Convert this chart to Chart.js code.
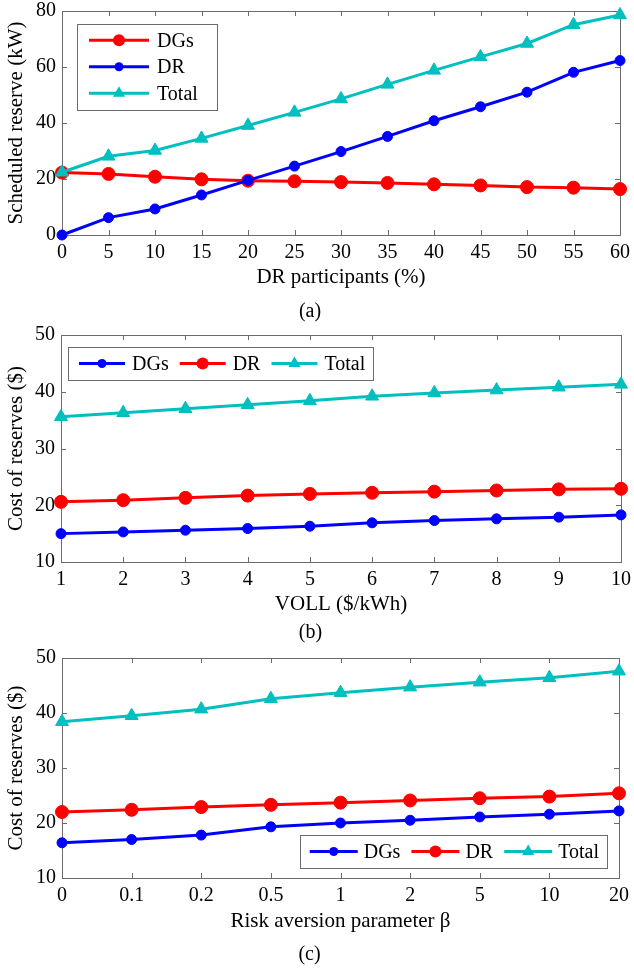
<!DOCTYPE html>
<html>
<head>
<meta charset="utf-8">
<script src="https://cdn.jsdelivr.net/npm/chart.js@4.4.0/dist/chart.umd.min.js"></script>
<style>
  body { margin: 0; background: #fff; }
  .wrap { position: relative; width: 634px; height: 968px; }
  canvas { position: absolute; left: 0; }
</style>
</head>
<body>
<div class="wrap">
  <canvas id="chartA" width="634" height="325" style="top:0px"></canvas>
  <canvas id="chartB" width="634" height="320" style="top:325px"></canvas>
  <canvas id="chartC" width="634" height="323" style="top:645px"></canvas>
</div>
<script>
// (a) reserve vs DR participation
const participants = ['0', '5', '10', '15', '20', '25', '30', '35', '40', '45', '50', '55', '60']
const dgsA = [22.3, 21.8, 20.8, 19.9, 19.4, 19.2, 18.9, 18.6, 18.1, 17.7, 17.1, 16.9, 16.4]
const drA = [0, 6.2, 9.3, 14.3, 19.5, 24.6, 29.8, 35.2, 40.8, 45.8, 51.0, 58.1, 62.3]
const totalA = [22.4, 28.1, 30.2, 34.5, 39.1, 43.8, 48.6, 53.8, 58.8, 63.6, 68.4, 75.1, 78.6]

// (b) cost vs VOLL
const voll = ['1', '2', '3', '4', '5', '6', '7', '8', '9', '10']
const dgsB = [15.0, 15.3, 15.6, 15.9, 16.3, 16.9, 17.3, 17.6, 17.9, 18.3]
const drB = [20.6, 20.9, 21.3, 21.7, 22.0, 22.2, 22.4, 22.6, 22.8, 22.9]
const totalB = [35.6, 36.3, 37.0, 37.7, 38.4, 39.2, 39.8, 40.3, 40.8, 41.3]

// (c) cost vs risk aversion
const beta = ['0', '0.1', '0.2', '0.5', '1', '2', '5', '10', '20']
const dgsC = [16.4, 17.0, 17.8, 19.3, 20.0, 20.5, 21.1, 21.6, 22.2]
const drC = [22.0, 22.4, 22.9, 23.3, 23.7, 24.1, 24.5, 24.8, 25.4]
const totalC = [38.4, 39.5, 40.7, 42.6, 43.7, 44.7, 45.6, 46.4, 47.6]

const RED = '#ff0000'
const BLUE = '#0000ff'
const CYAN = '#00bfbf'
const FONT = "'Liberation Serif', 'Times New Roman', serif"
const AXIS = '#6b6b6b'

Chart.defaults.font.family = FONT
Chart.defaults.color = '#000'

function marker(ctx, style, r, x, y, color) {
  ctx.fillStyle = color
  ctx.beginPath()
  if (style === 'triangle') {
    ctx.moveTo(x, y - r)
    ctx.lineTo(x + r * 0.866, y + r * 0.5)
    ctx.lineTo(x - r * 0.866, y + r * 0.5)
    ctx.closePath()
  } else {
    ctx.arc(x, y, r, 0, Math.PI * 2)
  }
  ctx.fill()
}

// matlab-like box with inward ticks
const boxTicks = {
  id: 'boxTicks',
  beforeDatasetsDraw(chart) {
    const { ctx, chartArea: a, scales: { x, y } } = chart
    ctx.save()
    ctx.strokeStyle = AXIS
    ctx.lineWidth = 1
    ctx.strokeRect(Math.round(a.left) + 0.5, Math.round(a.top) + 0.5, Math.round(a.width), Math.round(a.height))
    ctx.beginPath()
    x.ticks.forEach((t, i) => {
      const px = Math.round(x.getPixelForTick(i)) + 0.5
      ctx.moveTo(px, a.bottom); ctx.lineTo(px, a.bottom - 5)
      ctx.moveTo(px, a.top); ctx.lineTo(px, a.top + 5)
    })
    y.ticks.forEach((t, i) => {
      const py = Math.round(y.getPixelForTick(i)) + 0.5
      ctx.moveTo(a.left, py); ctx.lineTo(a.left + 5, py)
      ctx.moveTo(a.right, py); ctx.lineTo(a.right - 5, py)
    })
    ctx.stroke()
    ctx.restore()
  }
}

// boxed legend placed inside the axes
const boxLegend = {
  id: 'boxLegend',
  afterDraw(chart, args, o) {
    const { ctx, chartArea: a } = chart
    const sets = chart.data.datasets
    ctx.save()
    ctx.font = `20px ${FONT}`
    ctx.textBaseline = 'middle'
    const widths = sets.map(d => ctx.measureText(d.label).width)
    let w, h
    if (o.vertical) {
      w = o.padL + o.lineLen + o.gap + Math.max(...widths) + o.padR
      h = o.rowH * sets.length + o.padV * 2
    } else {
      w = o.padL + widths.reduce((s, v) => s + v, 0) + sets.length * (o.lineLen + o.gap) + (sets.length - 1) * o.itemGap + o.padR
      h = o.height
    }
    const bx = o.anchor === 'br' ? a.right - o.dx - w : a.left + o.dx
    const by = o.anchor === 'br' ? a.bottom - o.dy - h : a.top + o.dy
    ctx.fillStyle = '#fff'
    ctx.fillRect(bx, by, w, h)
    ctx.strokeStyle = AXIS
    ctx.lineWidth = 1
    ctx.strokeRect(Math.round(bx) + 0.5, Math.round(by) + 0.5, Math.round(w), Math.round(h))
    let cx = bx + o.padL
    sets.forEach((d, i) => {
      let lx, ly
      if (o.vertical) {
        lx = bx + o.padL
        ly = by + o.padV + o.rowH * (i + 0.5)
      } else {
        lx = cx
        ly = by + h / 2
      }
      ctx.strokeStyle = d.borderColor
      ctx.lineWidth = d.borderWidth
      ctx.beginPath()
      ctx.moveTo(lx, ly); ctx.lineTo(lx + o.lineLen, ly)
      ctx.stroke()
      marker(ctx, d.pointStyle, d.pointRadius - 0.5, lx + o.lineLen / 2, ly, d.borderColor)
      ctx.fillStyle = '#000'
      ctx.fillText(d.label, lx + o.lineLen + o.gap, ly + 1)
      cx = lx + o.lineLen + o.gap + widths[i] + o.itemGap
    })
    ctx.restore()
  }
}

function series(label, data, color, style, radius, order) {
  return {
    label, data, order,
    borderColor: color,
    backgroundColor: color,
    borderWidth: 3,
    pointStyle: style,
    pointRadius: radius,
    pointHoverRadius: radius,
    pointBorderWidth: 1,
    tension: 0,
    clip: false
  }
}

function makeChart(id, labels, sets, yr, texts, g) {
  return new Chart(document.getElementById(id), {
    type: 'line',
    data: { labels, datasets: sets },
    plugins: [boxTicks, boxLegend],
    options: {
      responsive: false,
      animation: false,
      events: [],
      layout: { padding: { top: g.padTop, right: g.padRight, left: 0, bottom: 0 } },
      plugins: {
        legend: { display: false },
        tooltip: { enabled: false },
        title: {
          display: true,
          position: 'bottom',
          text: texts.caption,
          font: { size: 20, weight: 'normal' },
          color: '#000',
          padding: { top: 0, bottom: g.capPad }
        },
        boxLegend: g.legend
      },
      scales: {
        x: {
          offset: false,
          grid: { display: false, drawTicks: false },
          border: { display: false },
          ticks: { font: { size: 20 }, color: '#000', padding: 6, maxRotation: 0, autoSkip: false },
          title: { display: true, text: texts.x, font: { size: 21 }, color: '#000', padding: { top: 0, bottom: g.xTitlePad } },
          afterFit(s) { s.height = g.xHeight; s.paddingLeft = 0; s.paddingRight = 0 }
        },
        y: {
          min: yr[0], max: yr[1],
          grid: { display: false, drawTicks: false },
          border: { display: false },
          ticks: { stepSize: yr[2], font: { size: 20 }, color: '#000', padding: 6 },
          title: { display: true, text: texts.y, font: { size: 21 }, color: '#000', padding: { top: 4, bottom: 0 } },
          afterFit(s) { s.width = g.yWidth; s.paddingTop = 0; s.paddingBottom = 0 }
        }
      }
    }
  })
}

makeChart('chartA', participants, [
  series('DGs', dgsA, RED, 'circle', 6.5, 3),
  series('DR', drA, BLUE, 'circle', 5, 2),
  series('Total', totalA, CYAN, 'triangle', 7.5, 1)
], [0, 80, 20], { x: 'DR participants (%)', y: 'Scheduled reserve (kW)', caption: '(a)' }, {
  padTop: 11, padRight: 14, yWidth: 62, xHeight: 65, xTitlePad: 10, capPad: 1,
  legend: { vertical: true, anchor: 'tl', dx: 15, dy: 13, padL: 12, padR: 19, padV: 3, rowH: 26.5, lineLen: 60, gap: 8 }
})

makeChart('chartB', voll, [
  series('DGs', dgsB, BLUE, 'circle', 5, 3),
  series('DR', drB, RED, 'circle', 6.5, 2),
  series('Total', totalB, CYAN, 'triangle', 7.5, 1)
], [10, 50, 10], { x: 'VOLL ($/kWh)', y: 'Cost of reserves ($)', caption: '(b)' }, {
  padTop: 10, padRight: 13, yWidth: 61, xHeight: 59, xTitlePad: 4, capPad: 0,
  legend: { vertical: false, anchor: 'tl', dx: 7, dy: 12, height: 33, padL: 11, padR: 8, lineLen: 46, gap: 7, itemGap: 11 }
})

makeChart('chartC', beta, [
  series('DGs', dgsC, BLUE, 'circle', 5, 3),
  series('DR', drC, RED, 'circle', 6.5, 2),
  series('Total', totalC, CYAN, 'triangle', 7.5, 1)
], [10, 50, 10], { x: 'Risk aversion parameter β', y: 'Cost of reserves ($)', caption: '(c)' }, {
  padTop: 13, padRight: 15, yWidth: 62, xHeight: 65, xTitlePad: 9, capPad: 1,
  legend: { vertical: false, anchor: 'br', dx: 12, dy: 10, height: 33, padL: 10, padR: 8, lineLen: 48, gap: 6, itemGap: 11 }
})
</script>
</body>
</html>
